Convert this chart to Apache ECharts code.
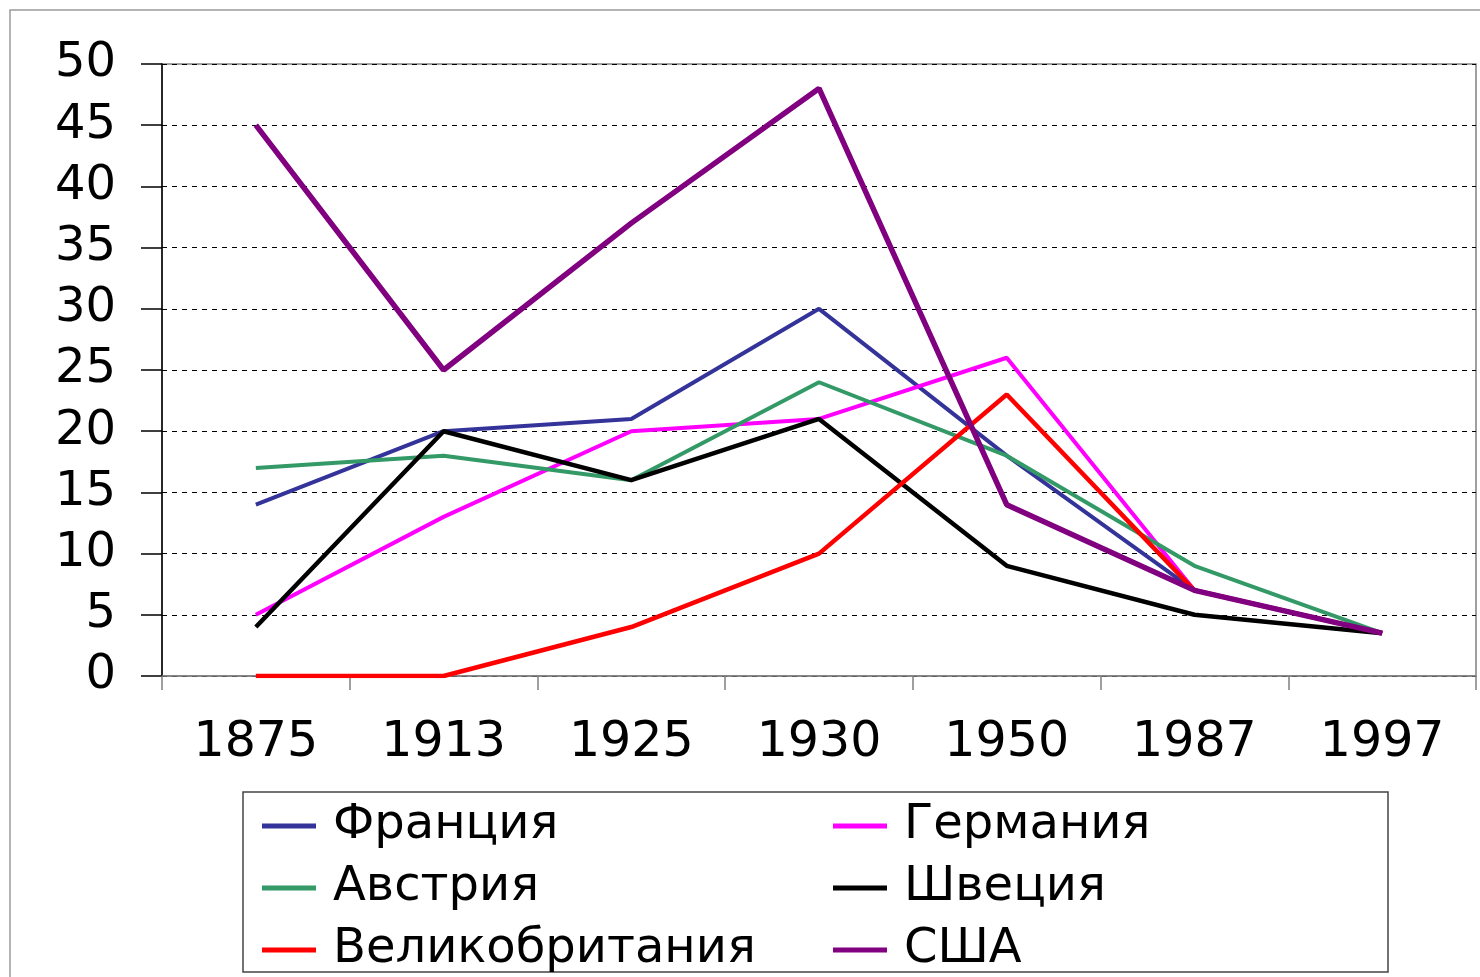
<!DOCTYPE html>
<html>
<head>
<meta charset="utf-8">
<script src="https://cdn.jsdelivr.net/npm/echarts@6/dist/echarts.min.js"></script>
<style>
  html, body { margin: 0; padding: 0; background: #fff; }
  #chart { width: 1480px; height: 977px; }
</style>
</head>
<body>
<div id="chart"></div>
<script>
// years on the x axis
const years = ['1875', '1913', '1925', '1930', '1950', '1987', '1997'];

// values per country
const france = [14, 20, 21, 30, 18, 7, 3.5];
const germany = [5, 13, 20, 21, 26, 7, 3.5];
const austria = [17, 18, 16, 24, 18, 9, 3.5];
const sweden = [4, 20, 16, 21, 9, 5, 3.5];
const britain = [0, 0, 4, 10, 23, 7, 3.5];
const usa = [45, 25, 37, 48, 14, 7, 3.5];

const font = 'DejaVu Sans';

const chart = echarts.init(document.getElementById('chart'));

function line(name, data, color, width) {
    return {
        name: name,
        type: 'line',
        data: data,
        showSymbol: false,
        symbol: 'none',
        animation: false,
        itemStyle: { color: color },
        lineStyle: { color: color, width: width }
    };
}

const legendCommon = {
    orient: 'vertical',
    icon: 'rect',
    itemWidth: 54,
    itemHeight: 5,
    itemGap: 14,
    padding: 0,
    height: 200,
    width: 560,
    selectedMode: false,
    textStyle: {
        fontFamily: font,
        fontSize: 48,
        color: '#000',
        lineHeight: 46,
        padding: [0, 0, 0, 12]
    }
};

chart.setOption({
    backgroundColor: '#fff',
    animation: false,
    grid: {
        left: 162,
        right: 4,
        top: 64,
        bottom: 301,
        show: true,
        borderColor: '#808080',
        borderWidth: 1.5
    },
    xAxis: {
        type: 'category',
        data: years,
        boundaryGap: true,
        axisLine: { lineStyle: { color: '#808080', width: 1.5 } },
        axisTick: { show: true, length: 14, lineStyle: { color: '#808080', width: 1.5 } },
        axisLabel: {
            fontFamily: font,
            fontSize: 49,
            color: '#000',
            margin: 43
        },
        splitLine: { show: false }
    },
    yAxis: {
        type: 'value',
        min: 0,
        max: 50,
        interval: 5,
        axisLine: { show: true, lineStyle: { color: '#000', width: 1.5 } },
        axisTick: { show: true, length: 21, lineStyle: { color: '#000', width: 1.5 } },
        axisLabel: {
            fontFamily: font,
            fontSize: 48,
            color: '#000',
            margin: 46
        },
        splitLine: {
            show: true,
            lineStyle: { color: '#000', width: 1, type: [5, 5] }
        }
    },
    legend: [
        Object.assign({ left: 262, top: 802, data: ['Франция', 'Австрия', 'Великобритания'] }, legendCommon),
        Object.assign({ left: 833, top: 802, data: ['Германия', 'Швеция', 'США'] }, legendCommon)
    ],
    graphic: [
        {
            // outer frame of the slide
            type: 'rect',
            shape: { x: 10, y: 10, width: 1500, height: 1000 },
            style: { fill: 'none', stroke: '#9a9a9a', lineWidth: 1.5 },
            silent: true
        },
        {
            // legend box
            type: 'rect',
            shape: { x: 243, y: 792, width: 1145, height: 180 },
            style: { fill: 'none', stroke: '#444', lineWidth: 1.5 },
            silent: true,
            z: -1
        }
    ],
    series: [
        line('Франция', france, '#333399', 4),
        line('Германия', germany, '#ff00ff', 4),
        line('Австрия', austria, '#339966', 4),
        line('Швеция', sweden, '#000000', 4.5),
        line('Великобритания', britain, '#ff0000', 4.5),
        line('США', usa, '#800080', 5.5)
    ]
});
</script>
</body>
</html>
